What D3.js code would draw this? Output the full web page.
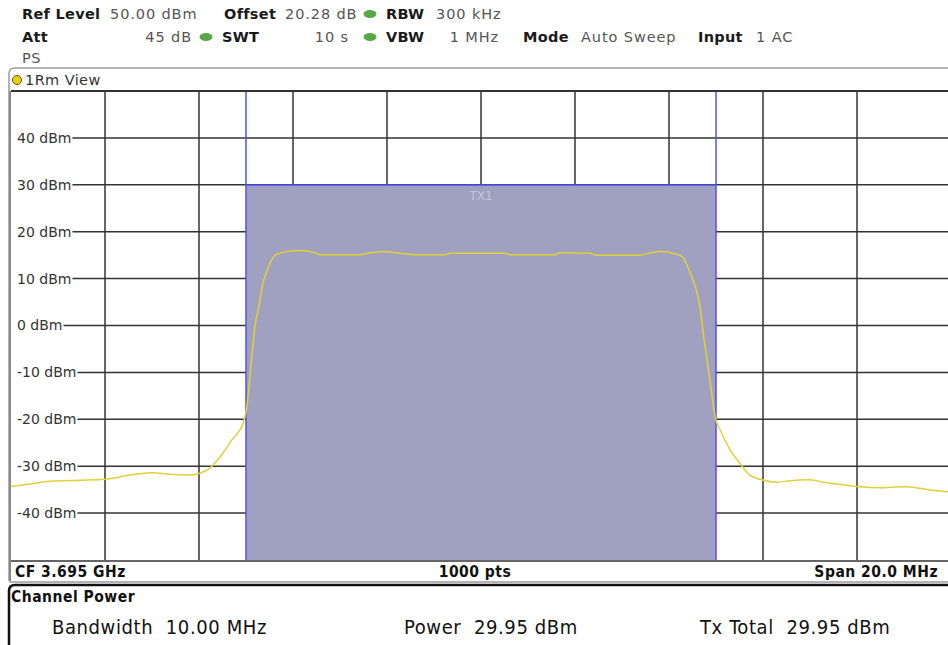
<!DOCTYPE html>
<html lang="en">
<head>
  <meta charset="UTF-8" />
  <title>Channel Power – 1Rm View</title>
  <style>
    body { margin: 0; background: #fff; }
    svg { display: block; font-family: 'DejaVu Sans', sans-serif; }
    .hdr-key { font-weight: bold; fill: #1a1a1a; font-size: 14.5px; letter-spacing: 0.3px; }
    .hdr-val { fill: #555; font-size: 14.5px; letter-spacing: 0.9px; }
    .ylab { fill: #333; font-size: 14px; }
    .grid line { stroke: #333; stroke-width: 1.5; }
    .cond { font-family: 'DejaVu Sans Condensed', 'DejaVu Sans', sans-serif; font-stretch: condensed; }
  </style>
</head>
<body>
  <svg id="chart" width="948" height="645"></svg>

  <script src="https://d3js.org/d3.v7.min.js"></script>
  <script>
    // Trace readings: frequency offset from CF (MHz) and level (dBm)
    const freqOffsetMHz = [
      -10.0, -9.6, -9.17, -8.53, -8.0, -7.47, -7.04, -6.62, -6.19, -5.98, -5.77, -5.55, -5.30, -5.06,
      -4.98, -4.91, -4.85, -4.81, -4.74, -4.68, -4.64, -4.57, -4.49, -4.38, -4.17, -3.85, -3.53, -3.43,
      -2.57, -2.36, -2.04, -1.72, -1.40, -0.77, -0.66, -0.02, 0.51, 0.62, 1.57, 1.68, 2.32, 2.43,
      3.38, 3.60, 3.81, 4.13, 4.28, 4.40, 4.51, 4.60, 4.68, 4.72, 4.79, 4.85, 4.91, 4.98,
      5.09, 5.30, 5.51, 5.72, 5.94, 6.32, 6.57, 7.00, 7.32, 7.74, 8.06, 8.49, 9.02, 9.34, 9.66, 10.0
    ];
    const traceDbm = [
      -34.3, -33.8, -33.2, -33.0, -32.8, -31.9, -31.4, -31.7, -31.9, -31.5, -30.4, -28.0, -24.4, -20.8,
      -17.3, -10.2, -3.8, -0.2, 3.3, 6.9, 9.0, 11.1, 13.3, 15.0, 15.7, 16.0, 15.5, 15.1,
      15.1, 15.5, 15.7, 15.4, 15.1, 15.1, 15.4, 15.4, 15.4, 15.1, 15.1, 15.5, 15.4, 15.0,
      15.0, 15.5, 15.8, 15.3, 14.7, 12.5, 9.7, 6.9, 2.6, -1.0, -5.9, -10.2, -14.5, -19.4,
      -22.3, -26.5, -29.4, -31.9, -32.8, -33.4, -33.1, -32.9, -33.5, -34.0, -34.4, -34.6, -34.4, -34.7, -35.2, -35.5
    ];

    // Axis settings
    const refLevel = 50, bottomLevel = -50;
    const yTicks = [40, 30, 20, 10, 0, -10, -20, -30, -40];
    const xGridMHz = [-8, -6, -4, -2, 0, 2, 4, 6, 8];
    const spanMHz = [-10, 10];
    const channelMHz = [-5, 5];
    const channelPowerDbm = 29.95;

    // Header setting lines
    const headerRow1 = [
      { key: "Ref Level", kx: 22, val: "50.00 dBm", vx: 110 },
      { key: "Offset", kx: 224, val: "20.28 dB", vx: 285, dot: 370 },
      { key: "RBW", kx: 386, val: "300 kHz", vx: 436 }
    ];
    const headerRow2 = [
      { key: "Att", kx: 22, val: "45 dB", vxEnd: 191, dot: 206 },
      { key: "SWT", kx: 222, val: "10 s", vxEnd: 348, dot: 370 },
      { key: "VBW", kx: 386, val: "1 MHz", vxEnd: 498 },
      { key: "Mode", kx: 523, val: "Auto Sweep", vx: 581 },
      { key: "Input", kx: 698, val: "1 AC", vx: 756 }
    ];
    const resultItems = [
      { label: "Bandwidth", value: "10.00 MHz", x: 52 },
      { label: "Power", value: "29.95 dBm", x: 404 },
      { label: "Tx Total", value: "29.95 dBm", x: 700 }
    ];

    const svg = d3.select("#chart");
    const plot = { left: 11, right: 951, top: 91, bottom: 560 };

    const x = d3.scaleLinear().domain(spanMHz).range([plot.left, plot.right]);
    const y = d3.scaleLinear().domain([bottomLevel, refLevel]).range([plot.bottom, plot.top]);

    // --- header ---
    const hdr = svg.append("g");
    function drawRow(row, baseY) {
      row.forEach(d => {
        hdr.append("text").attr("class", "hdr-key").attr("x", d.kx).attr("y", baseY).text(d.key);
        if (d.vxEnd !== undefined) {
          hdr.append("text").attr("class", "hdr-val").attr("x", d.vxEnd + 1).attr("y", baseY)
             .attr("text-anchor", "end").text(d.val);
        } else {
          hdr.append("text").attr("class", "hdr-val").attr("x", d.vx).attr("y", baseY).text(d.val);
        }
        if (d.dot) {
          hdr.append("ellipse").attr("cx", d.dot).attr("cy", baseY - 5)
             .attr("rx", 6.5).attr("ry", 4).attr("fill", "#58a848");
        }
      });
    }
    drawRow(headerRow1, 19);
    drawRow(headerRow2, 42);
    hdr.append("text").attr("class", "hdr-val").attr("x", 22).attr("y", 63).attr("font-size", 13)
       .style("letter-spacing", "0.5px").text("PS");

    // --- view panel frame ---
    svg.append("path")
       .attr("d", `M9,${plot.bottom + 21} V74 Q9,68 15,68 H948`)
       .attr("fill", "none").attr("stroke", "#9a9a9a").attr("stroke-width", 1.5);
    svg.append("circle").attr("cx", 17).attr("cy", 80).attr("r", 4.5)
       .attr("fill", "#e8cf1c").attr("stroke", "#6a5a00").attr("stroke-width", 1);
    svg.append("text").attr("x", 25).attr("y", 85).attr("font-size", 14.5).attr("fill", "#333")
       .style("letter-spacing", "0.4px").text("1Rm View");

    // plot background
    svg.append("rect").attr("x", plot.left).attr("y", plot.top)
       .attr("width", plot.right - plot.left).attr("height", plot.bottom - plot.top).attr("fill", "#fff");

    // --- grid ---
    const grid = svg.append("g").attr("class", "grid");
    const labels = svg.append("g");
    yTicks.forEach(v => {
      const t = labels.append("text").attr("class", "ylab")
        .attr("x", 17).attr("y", y(v)).attr("dy", "0.35em").text(`${v} dBm`);
      const endX = 17 + t.node().getComputedTextLength() + 1;
      grid.append("line").attr("x1", endX).attr("x2", plot.right).attr("y1", y(v)).attr("y2", y(v));
    });
    grid.selectAll("line.v").data(xGridMHz).join("line").attr("class", "v")
        .attr("x1", d => x(d)).attr("x2", d => x(d)).attr("y1", plot.top).attr("y2", plot.bottom);

    // --- channel bar ---
    svg.append("rect")
       .attr("x", x(channelMHz[0])).attr("y", y(channelPowerDbm))
       .attr("width", x(channelMHz[1]) - x(channelMHz[0]))
       .attr("height", plot.bottom - y(channelPowerDbm))
       .attr("fill", "#a0a0c0");
    const blue = svg.append("g").attr("stroke", "#5050f0").attr("stroke-width", 1.5).attr("fill", "none");
    channelMHz.forEach(f => {
      blue.append("line").attr("x1", x(f)).attr("x2", x(f)).attr("y1", plot.top).attr("y2", plot.bottom);
    });
    blue.append("line").attr("x1", x(channelMHz[0])).attr("x2", x(channelMHz[1]))
        .attr("y1", y(channelPowerDbm)).attr("y2", y(channelPowerDbm));
    svg.append("text").attr("x", x(0)).attr("y", y(channelPowerDbm) + 15)
       .attr("text-anchor", "middle").attr("font-size", 12).attr("fill", "#c4c4d8").text("TX1");

    // --- trace ---
    const traceData = freqOffsetMHz.map((f, i) => ({ f, v: traceDbm[i] }));
    const line = d3.line().x(d => x(d.f)).y(d => y(d.v)).curve(d3.curveMonotoneX);
    svg.append("path").datum(traceData)
       .attr("d", line).attr("fill", "none")
       .attr("stroke", "#e2d03a").attr("stroke-width", 1.5);

    // plot frame
    svg.append("line").attr("x1", plot.left).attr("x2", 948).attr("y1", plot.top).attr("y2", plot.top)
       .attr("stroke", "#333").attr("stroke-width", 2);
    svg.append("line").attr("x1", plot.left - 1).attr("x2", plot.left - 1).attr("y1", plot.top).attr("y2", plot.bottom + 21)
       .attr("stroke", "#888").attr("stroke-width", 2);
    svg.append("line").attr("x1", plot.left).attr("x2", 948).attr("y1", plot.bottom + 1).attr("y2", plot.bottom + 1)
       .attr("stroke", "#333").attr("stroke-width", 1.5);

    // --- footer of view ---
    const foot = svg.append("g").attr("class", "cond").attr("font-weight", "bold").attr("font-size", 15.5)
       .attr("fill", "#111").style("letter-spacing", "0.5px");
    foot.append("text").attr("x", 15).attr("y", 577).text("CF 3.695 GHz");
    foot.append("text").attr("x", 475).attr("y", 577).attr("text-anchor", "middle").text("1000 pts");
    foot.append("text").attr("x", 938).attr("y", 577).attr("text-anchor", "end").text("Span 20.0 MHz");
    svg.append("line").attr("x1", 9).attr("x2", 948).attr("y1", 582).attr("y2", 582)
       .attr("stroke", "#9a9a9a").attr("stroke-width", 1.5);

    // --- channel power result box ---
    svg.append("path")
       .attr("d", "M9,650 V591 Q9,585 15,585 H948")
       .attr("fill", "none").attr("stroke", "#111").attr("stroke-width", 2.5);
    svg.append("text").attr("class", "cond").attr("x", 11).attr("y", 602)
       .attr("font-weight", "bold").attr("font-size", 15.5).attr("fill", "#111")
       .style("letter-spacing", "0.5px").text("Channel Power");
    const res = svg.append("g").attr("class", "cond").attr("font-size", 20).attr("fill", "#111")
       .style("letter-spacing", "0.6px");
    resultItems.forEach(d => {
      res.append("text").attr("x", d.x).attr("y", 634).text(`${d.label}  ${d.value}`)
         .style("white-space", "pre");
    });
  </script>
</body>
</html>
